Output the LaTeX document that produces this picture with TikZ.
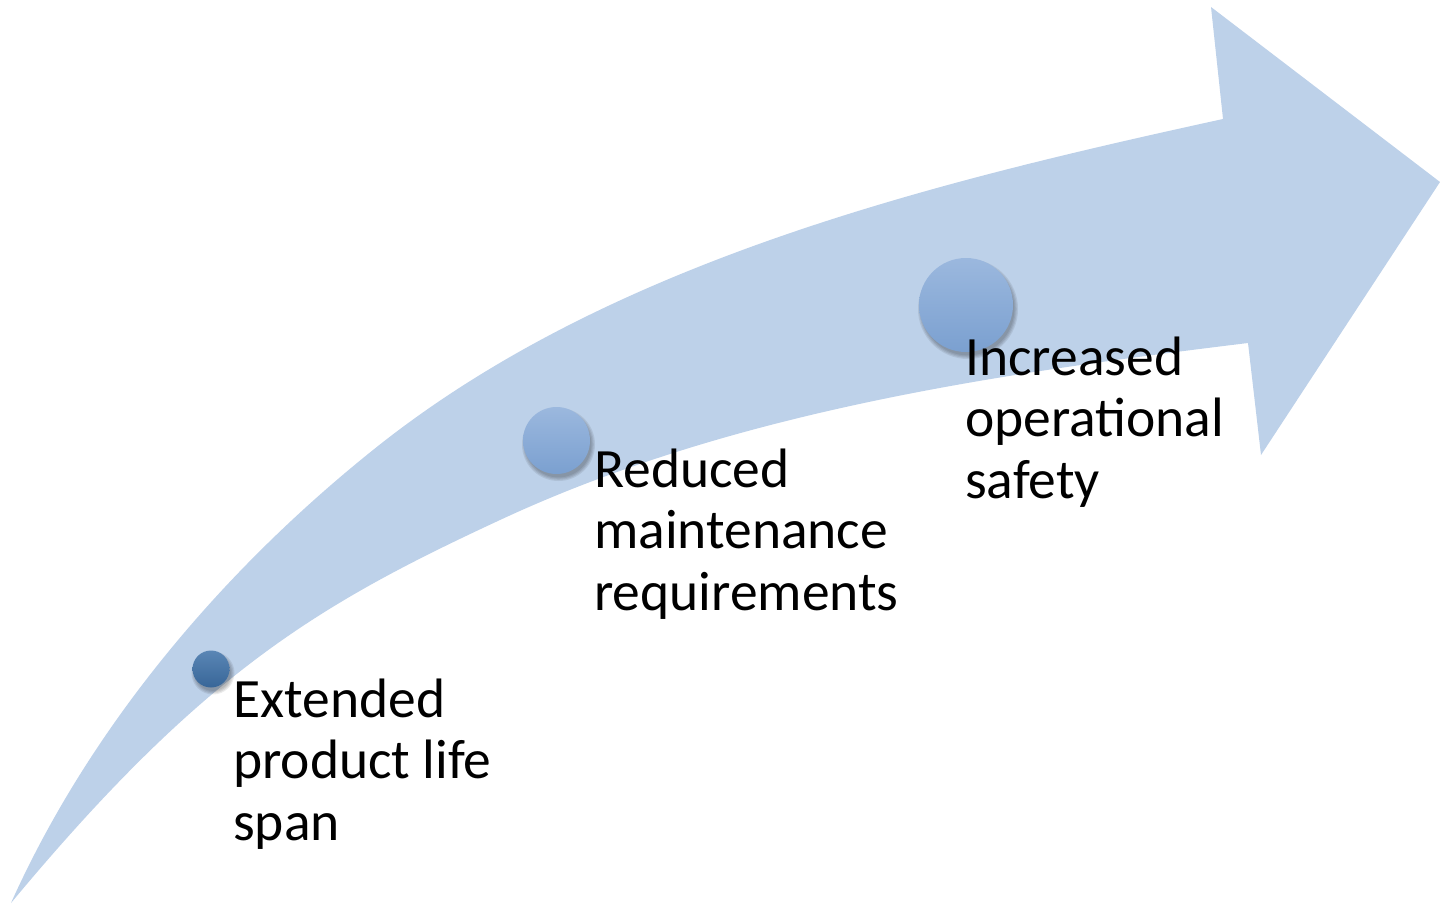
\documentclass[tikz,border=0pt]{standalone}
\usepackage{fontspec}
\setmainfont{Carlito}
\begin{document}
\begin{tikzpicture}[x=1pt,y=-1pt,
  label/.style={anchor=base west,inner sep=0pt,align=left,font=\fontsize{55.5}{61.5}\selectfont,text=black},
  dot/.style={circle,inner sep=0pt,minimum size=#1},
  shadowring/.style={fill=black,fill opacity=0.08,draw=none}]
\definecolor{arrowblue}{RGB}{189,209,233}
\definecolor{d1top}{RGB}{90,134,181}
\definecolor{d1bot}{RGB}{56,102,152}
\definecolor{d2top}{RGB}{155,184,222}
\definecolor{d2bot}{RGB}{123,160,208}
\useasboundingbox (0,0) rectangle (1440,905);
% arrow
\fill[arrowblue] (11,903)
  .. controls (90,727) and (222,571) .. (373,450)
  .. controls (607,262) and (930,183) .. (1223,119)
  -- (1211,7) -- (1440,182) -- (1261,455) -- (1248,343)
  .. controls (994,374) and (732,412) .. (500,520)
  .. controls (319,604) and (203,672) .. (11,903) -- cycle;
% shadows
\foreach \cx/\cy/\r in {211/669/18.5, 556.5/440.5/33.5, 966/305/47}{
  \foreach \k in {0,1,2,3}{
    \fill[shadowring] (\cx+2,\cy+4) circle ({\r+3-\k*1.2});
  }
}
% dots
\node[dot=37pt,top color=d1top,bottom color=d1bot] (c1) at (211,669) {};
\node[dot=67pt,top color=d2top,bottom color=d2bot] (c2) at (556.5,440.5) {};
\node[dot=94pt,top color=d2top,bottom color=d2bot] (c3) at (966,305) {};
% labels (anchor at baseline of last line)
\node[label] (l1) at (233,840) {Extended\\product life\\span};
\node[label] (l2) at (594,610) {Reduced\\maintenance\\requirements};
\node[label] (l3) at (965,498) {Increased\\operational\\safety};
\end{tikzpicture}
\end{document}
